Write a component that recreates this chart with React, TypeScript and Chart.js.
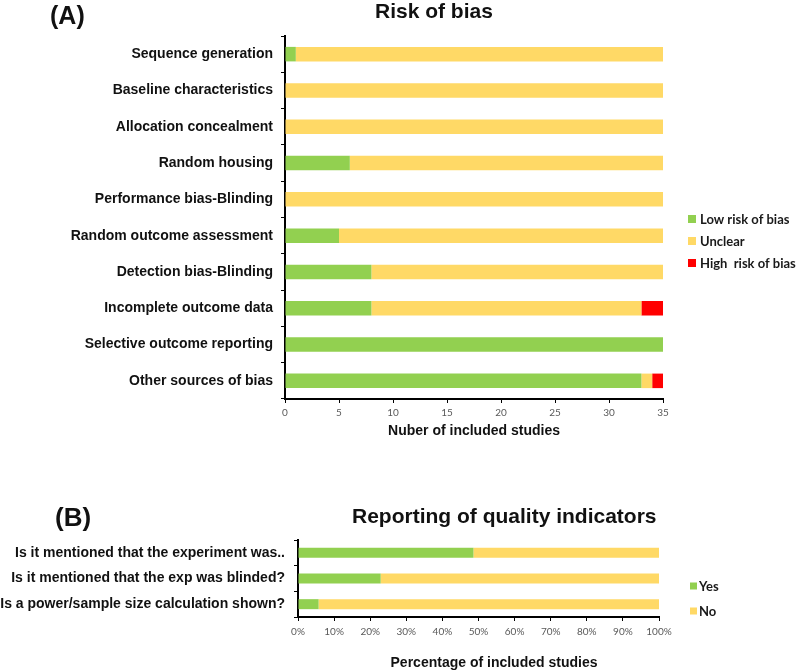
import React, { useEffect, useRef } from "react";
import { Chart, registerables } from "chart.js";

Chart.register(...registerables);

// ---------- Panel A data ----------
const riskCategories = [
  "Sequence generation",
  "Baseline characteristics",
  "Allocation concealment",
  "Random housing",
  "Performance bias-Blinding",
  "Random outcome assessment",
  "Detection bias-Blinding",
  "Incomplete outcome data",
  "Selective outcome reporting",
  "Other sources of bias",
];
const lowRisk = [1, 0, 0, 6, 0, 5, 8, 8, 35, 33];
const unclearRisk = [34, 35, 35, 29, 35, 30, 27, 25, 0, 1];
const highRisk = [0, 0, 0, 0, 0, 0, 0, 2, 0, 1];
const riskSeriesNames = ["Low risk of bias", "Unclear", "High  risk of bias"];

// ---------- Panel B data ----------
const qualityCategories = [
  "Is it mentioned that the experiment was..",
  "Is it mentioned that the exp was blinded?",
  "Is a power/sample size calculation shown?",
];
const yesPct = [48.6, 22.9, 5.7];
const noPct = [51.4, 77.1, 94.3];
const qualitySeriesNames = ["Yes", "No"];

const GREEN = "#92D050";
const YELLOW = "#FFD966";
const RED = "#FF0000";
const LABEL_FONT = "'Liberation Sans', Arial, sans-serif";
const LEGEND_FONT = "Lato, 'Liberation Sans', sans-serif";

type TextItem = { text: string; x: number; y: number; font: string; align: CanvasTextAlign };
type LegendCfg = { x: number; y: number; gap: number; box: number; textX: number; font: string };

function overlayPlugin(texts: TextItem[], legend: LegendCfg) {
  return {
    id: "overlay",
    afterDraw(chart: any) {
      const ctx = chart.ctx as CanvasRenderingContext2D;
      ctx.save();
      ctx.fillStyle = "#111";
      ctx.textBaseline = "alphabetic";
      texts.forEach((t) => {
        ctx.font = t.font;
        ctx.textAlign = t.align;
        ctx.fillText(t.text, t.x, t.y);
      });
      chart.data.datasets.forEach((d: any, i: number) => {
        const cy = legend.y + i * legend.gap;
        ctx.fillStyle = d.backgroundColor;
        ctx.fillRect(legend.x, cy - legend.box / 2, legend.box, legend.box);
        ctx.fillStyle = "#1a1a1a";
        ctx.font = legend.font;
        ctx.textAlign = "left";
        ctx.textBaseline = "middle";
        ctx.fillText(d.label, legend.textX, cy + 0.5);
      });
      ctx.restore();
    },
  };
}

function axisStyle() {
  return {
    grid: { drawOnChartArea: false, drawTicks: true, tickLength: 4, color: "#000", lineWidth: 1 },
    border: { color: "#000", width: 2 },
  };
}

function RiskChart() {
  const ref = useRef<HTMLCanvasElement>(null);
  useEffect(() => {
    const chart = new Chart(ref.current as HTMLCanvasElement, {
      type: "bar",
      data: {
        labels: riskCategories,
        datasets: [
          { label: riskSeriesNames[0], data: lowRisk, backgroundColor: GREEN },
          { label: riskSeriesNames[1], data: unclearRisk, backgroundColor: YELLOW },
          { label: riskSeriesNames[2], data: highRisk, backgroundColor: RED },
        ],
      },
      options: {
        indexAxis: "y",
        responsive: false,
        animation: false,
        layout: { padding: { left: 0, right: 134, top: 36, bottom: 0 } },
        datasets: { bar: { categoryPercentage: 1, barPercentage: 0.4 } },
        plugins: { legend: { display: false }, tooltip: { enabled: false } },
        scales: {
          x: {
            stacked: true,
            min: 0,
            max: 35,
            ...axisStyle(),
            ticks: { stepSize: 5, color: "#595959", font: { family: LEGEND_FONT, size: 10 }, padding: 4, maxRotation: 0 },
            title: {
              display: true,
              text: "Nuber of included studies",
              color: "#111",
              font: { family: LABEL_FONT, size: 14, weight: "bold" },
              padding: { top: 4, bottom: 5 },
            },
            afterFit: (s: any) => {
              s.height = 46;
            },
          },
          y: {
            stacked: true,
            ...axisStyle(),
            ticks: { color: "#111", font: { family: LABEL_FONT, size: 14, weight: "bold" }, padding: 8 },
            afterFit: (s: any) => {
              s.width = 285;
            },
          },
        },
      } as any,
      plugins: [
        overlayPlugin(
          [
            { text: "(A)", x: 50, y: 24, font: `bold 25px ${LABEL_FONT}`, align: "left" },
            { text: "Risk of bias", x: 375, y: 18, font: `bold 21px ${LABEL_FONT}`, align: "left" },
          ],
          { x: 688, y: 219, gap: 22, box: 8, textX: 700, font: `bold 13px ${LEGEND_FONT}` }
        ),
      ],
    });
    return () => chart.destroy();
  }, []);
  return <canvas ref={ref} width={797} height={445} style={{ position: "absolute", left: 0, top: 0 }} />;
}

function QualityChart() {
  const ref = useRef<HTMLCanvasElement>(null);
  useEffect(() => {
    const chart = new Chart(ref.current as HTMLCanvasElement, {
      type: "bar",
      data: {
        labels: qualityCategories,
        datasets: [
          { label: qualitySeriesNames[0], data: yesPct, backgroundColor: GREEN },
          { label: qualitySeriesNames[1], data: noPct, backgroundColor: YELLOW },
        ],
      },
      options: {
        indexAxis: "y",
        responsive: false,
        animation: false,
        layout: { padding: { left: 0, right: 138, top: 70, bottom: 0 } },
        datasets: { bar: { categoryPercentage: 1, barPercentage: 0.39 } },
        plugins: { legend: { display: false }, tooltip: { enabled: false } },
        scales: {
          x: {
            stacked: true,
            min: 0,
            max: 100,
            ...axisStyle(),
            ticks: {
              stepSize: 10,
              color: "#595959",
              font: { family: LEGEND_FONT, size: 10 },
              padding: 5,
              maxRotation: 0,
              callback: (v: any) => `${v}%`,
            },
            afterFit: (s: any) => {
              s.height = 54;
            },
          },
          y: {
            stacked: true,
            ...axisStyle(),
            ticks: { color: "#111", font: { family: LABEL_FONT, size: 14, weight: "bold" }, padding: 9 },
            afterFit: (s: any) => {
              s.width = 298;
            },
          },
        },
      } as any,
      plugins: [
        overlayPlugin(
          [
            { text: "(B)", x: 55, y: 56, font: `bold 26px ${LABEL_FONT}`, align: "left" },
            { text: "Reporting of quality indicators", x: 352, y: 53, font: `bold 21px ${LABEL_FONT}`, align: "left" },
            { text: "Percentage of included studies", x: 494, y: 197, font: `bold 14px ${LABEL_FONT}`, align: "center" },
          ],
          { x: 690, y: 116, gap: 25, box: 7, textX: 699, font: `bold 13px ${LEGEND_FONT}` }
        ),
      ],
    });
    return () => chart.destroy();
  }, []);
  return <canvas ref={ref} width={797} height={201} style={{ position: "absolute", left: 0, top: 470 }} />;
}

export default function App() {
  return (
    <div style={{ position: "fixed", left: 0, top: 0, width: 797, height: 671, background: "#fff", overflow: "hidden" }}>
      <RiskChart />
      <QualityChart />
    </div>
  );
}
